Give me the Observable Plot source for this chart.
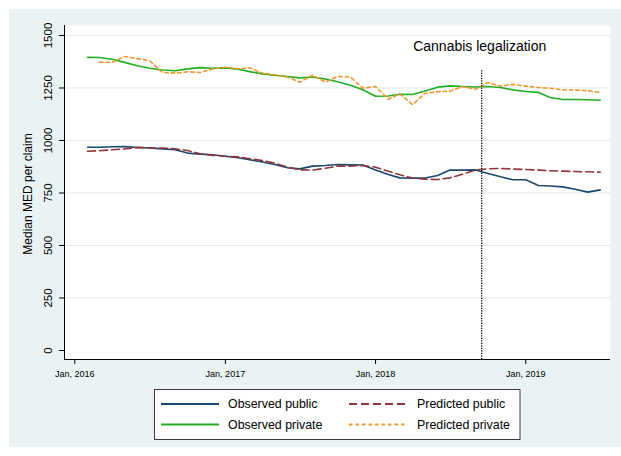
<!DOCTYPE html>
<html>
<head>
<meta charset="utf-8">
<script src="https://cdn.jsdelivr.net/npm/d3@7"></script>
<script src="https://cdn.jsdelivr.net/npm/@observablehq/plot@0.6"></script>
<style>
  html, body { margin: 0; padding: 0; background: #fff; }
  #wrap { position: relative; width: 621px; height: 456px; overflow: hidden;
          font-family: "Liberation Sans", Arial, sans-serif; }
  #panel { position: absolute; left: 9px; top: 9px; width: 612px; height: 438px; background: #eaf2f3; }
  #chart { position: absolute; left: 0; top: 0; }
  #legend { position: absolute; left: 0; top: 0; }
</style>
</head>
<body>
<div id="wrap">
  <div id="panel"></div>
  <div id="chart"></div>
  <svg id="legend" width="621" height="456"></svg>
</div>
<script>
// Monthly observations, Feb 2016 – Jul 2019
const months = [
  "2016-02","2016-03","2016-04","2016-05","2016-06","2016-07","2016-08","2016-09","2016-10","2016-11","2016-12",
  "2017-01","2017-02","2017-03","2017-04","2017-05","2017-06","2017-07","2017-08","2017-09","2017-10","2017-11","2017-12",
  "2018-01","2018-02","2018-03","2018-04","2018-05","2018-06","2018-07","2018-08","2018-09","2018-10","2018-11","2018-12",
  "2019-01","2019-02","2019-03","2019-04","2019-05","2019-06","2019-07"
];

// Median MED per claim, by payer
const observedPublic = [
  968, 968, 970, 971, 967, 964, 960, 956, 940, 935, 932,
  925, 918, 908, 898, 886, 870, 865, 878, 881, 886, 884, 883,
  860, 838, 822, 821, 821, 833, 859, 859, 860, 843, 827, 813,
  813, 786, 783, 779, 768, 754, 765
];
const predictedPublic = [
  949, 951, 956, 960, 967, 965, 964, 960, 952, 937, 929,
  925, 922, 913, 905, 892, 873, 860, 859, 868, 878, 878, 881,
  873, 854, 837, 821, 816, 814, 822, 840, 859, 865, 867, 864,
  862, 859, 856, 854, 852, 851, 849
];
const observedPrivate = [
  1396, 1395, 1387, 1372, 1356, 1344, 1336, 1332, 1341, 1347, 1344,
  1346, 1339, 1328, 1317, 1311, 1305, 1298, 1302, 1293, 1280, 1263, 1242,
  1211, 1212, 1220, 1219, 1236, 1254, 1260, 1257, 1255, 1257, 1252, 1241,
  1233, 1229, 1205, 1195, 1195, 1194, 1192
];
const predictedPrivate = [
  null, 1373, 1372, 1400, 1390, 1380, 1324, 1321, 1327, 1324, 1341,
  1349, 1341, 1346, 1321, 1313, 1302, 1278, 1311, 1278, 1305, 1302, 1249,
  1257, 1197, 1222, 1171, 1225, 1232, 1235, 1257, 1244, 1276, 1259, 1267,
  1259, 1252, 1249, 1241, 1240, 1237, 1229
];

const yTicks = [0, 250, 500, 750, 1000, 1250, 1500];
const xTicks = ["2016-01-01", "2017-01-01", "2018-01-01", "2019-01-01"].map(d => new Date(d));
const legalization = new Date("2018-09-16");
const legalizationLabel = "Cannabis legalization";
const yTitle = "Median MED per claim";

const series = [
  {key: "observedPublic",  label: "Observed public",   color: "#1a476f", dash: null},
  {key: "predictedPublic", label: "Predicted public",  color: "#90353b", dash: "8,4"},
  {key: "observedPrivate", label: "Observed private",  color: "#22ad22", dash: null},
  {key: "predictedPrivate",label: "Predicted private", color: "#f2962a", dash: "3.5,3"}
];
const values = {observedPublic, predictedPublic, observedPrivate, predictedPrivate};

const rows = months.map((m, i) => ({
  date: new Date(m + "-01"),
  observedPublic: observedPublic[i],
  predictedPublic: predictedPublic[i],
  observedPrivate: observedPrivate[i],
  predictedPrivate: predictedPrivate[i]
}));

const xDomain = [new Date("2015-12-07"), new Date("2019-07-26")];
const yDomain = [-42.9, 1547.6];
const font = "Liberation Sans, Arial, sans-serif";

const chart = Plot.plot({
  width: 621,
  height: 456,
  marginLeft: 64,
  marginRight: 11,
  marginTop: 25,
  marginBottom: 97,
  style: {background: "transparent", fontFamily: font, color: "#000"},
  x: {type: "utc", domain: xDomain, axis: null},
  y: {domain: yDomain, axis: null, label: null},
  marks: [
    Plot.frame({fill: "white", stroke: null}),
    Plot.gridY(yTicks.filter(v => v > 0), {stroke: "#dfe8ec", strokeOpacity: 1, strokeWidth: 1}),
    ...series.map(s => Plot.line(rows, {
      x: "date", y: s.key, stroke: s.color, strokeWidth: 1.6,
      strokeDasharray: s.dash ?? undefined
    })),
    Plot.ruleX([legalization], {y1: yDomain[0], y2: 1338, stroke: "#000", strokeWidth: 1.3, strokeDasharray: "1.2,1.3"}),
    Plot.text([legalization], {x: d => d, y: () => 1448, text: () => legalizationLabel, fontSize: 14, dx: -2, fill: "#000"}),
    Plot.ruleX([xDomain[0]], {stroke: "#000", strokeWidth: 1}),
    Plot.ruleY([yDomain[0]], {stroke: "#000", strokeWidth: 1}),
    Plot.axisY(yTicks, {tickSize: 5, tickFormat: () => "", label: null, stroke: "#000"}),
    Plot.text(yTicks, {x: xDomain[0], y: d => d, text: d => String(d), rotate: -90, dx: -15.7,
      fontSize: 11.5, textAnchor: "middle", lineAnchor: "middle", fill: "#000"}),
    Plot.text([yTitle], {frameAnchor: "left", rotate: -90, dx: -36, dy: 1.5, fontSize: 12,
      textAnchor: "middle", lineAnchor: "middle", fill: "#000"}),
    Plot.axisX(xTicks, {tickSize: 5, tickPadding: 6, fontSize: 9, label: null, stroke: "#000",
      tickFormat: d => `Jan, ${d.getUTCFullYear()}`})
  ]
});
document.getElementById("chart").appendChild(chart);

// Legend box below the plot
const leg = d3.select("#legend");
leg.append("rect").attr("x", 154.5).attr("y", 389.5).attr("width", 365.5).attr("height", 50)
  .attr("fill", "white").attr("stroke", "#3a3a3a").attr("stroke-width", 1);
const cols = [{lx: 161, tx: 228}, {lx: 349, tx: 417}];
const rowY = [404, 424.5];
series.forEach((s, i) => {
  const c = cols[i % 2], y = rowY[Math.floor(i / 2)];
  leg.append("line").attr("x1", c.lx).attr("x2", c.lx + 58).attr("y1", y).attr("y2", y)
    .attr("stroke", s.color).attr("stroke-width", 1.8)
    .attr("stroke-dasharray", s.dash);
  leg.append("text").attr("x", c.tx).attr("y", y).attr("dy", "0.35em")
    .attr("font-family", font).attr("font-size", 12.4).attr("fill", "#000").text(s.label);
});
</script>
</body>
</html>
